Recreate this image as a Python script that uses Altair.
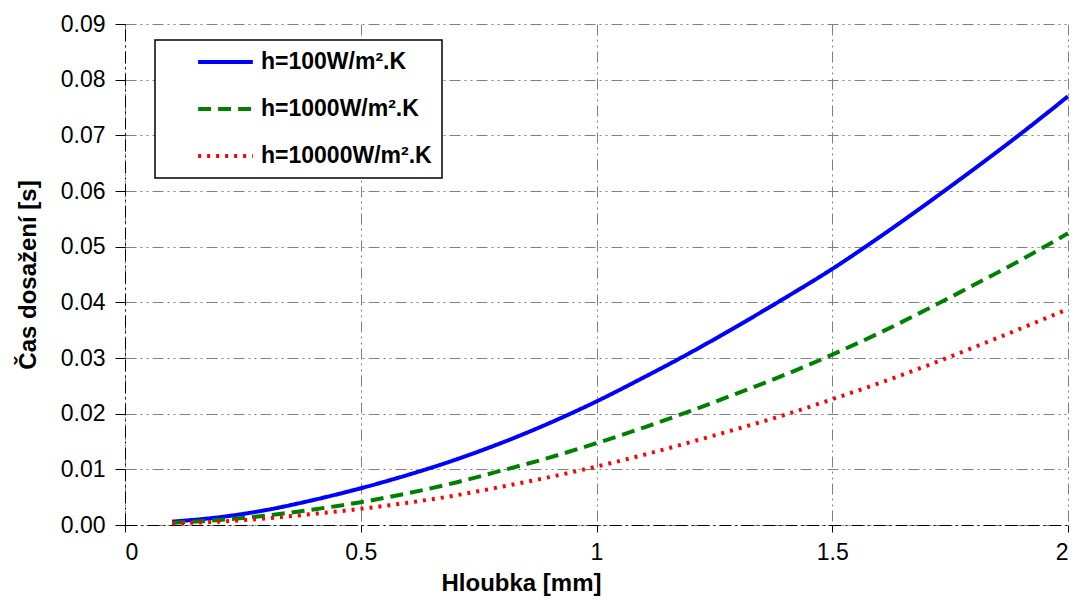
import altair as alt
import pandas as pd

depth = [0.1, 0.2, 0.3, 0.4, 0.5, 0.6, 0.7, 0.8, 0.9, 1.0,
         1.1, 1.2, 1.3, 1.4, 1.5, 1.6, 1.7, 1.8, 1.9, 2.0]
t_h100 = [0.0006, 0.0014, 0.0027, 0.0045, 0.0066, 0.0090, 0.0117, 0.0148, 0.0183, 0.0222,
          0.0265, 0.0310, 0.0358, 0.0408, 0.0460, 0.0517, 0.0577, 0.0639, 0.0703, 0.0770]
t_h1000 = [0.0004, 0.0009, 0.0017, 0.0028, 0.0041, 0.0057, 0.0076, 0.0098, 0.0121, 0.0147,
           0.0175, 0.0205, 0.0237, 0.0270, 0.0306, 0.0345, 0.0387, 0.0431, 0.0476, 0.0524]
t_h10000 = [0.0003, 0.0006, 0.0012, 0.0020, 0.0029, 0.0040, 0.0053, 0.0069, 0.0086, 0.0105,
            0.0126, 0.0149, 0.0173, 0.0198, 0.0226, 0.0255, 0.0286, 0.0319, 0.0353, 0.0388]

series_names = ["h=100W/m².K", "h=1000W/m².K", "h=10000W/m².K"]
series_colors = ["#0000FF", "#008000", "#FF0000"]
series_dashes = [[1, 0], [13, 7], [3, 6]]
x_ticks = [0, 0.5, 1, 1.5, 2]
y_ticks = [0.0, 0.01, 0.02, 0.03, 0.04, 0.05, 0.06, 0.07, 0.08, 0.09]

rows = []
for name, vals in zip(series_names, [t_h100, t_h1000, t_h10000]):
    for d, v in zip(depth, vals):
        rows.append({"depth": d, "time": v, "series": name})
df = pd.DataFrame(rows)

FONT = "Liberation Sans"
grid_dash = [11, 4, 2, 4, 2, 4]

chart = alt.Chart(df).mark_line(strokeWidth=4, interpolate="monotone").encode(
    x=alt.X("depth:Q",
            scale=alt.Scale(domain=[0, 2], nice=False),
            axis=alt.Axis(title="Hloubka [mm]", values=x_ticks, format="~g",
                          titlePadding=7, titleX=396, tickSize=7, labelPadding=9)),
    y=alt.Y("time:Q",
            scale=alt.Scale(domain=[0, 0.09], nice=False),
            axis=alt.Axis(title="Čas dosažení [s]", values=y_ticks, format=".2f",
                          titlePadding=20, tickSize=10, labelPadding=10)),
    color=alt.Color("series:N",
                    scale=alt.Scale(domain=series_names, range=series_colors),
                    legend=alt.Legend(title=None, orient="none", legendX=30, legendY=16,
                                      symbolType="stroke", symbolSize=3000,
                                      symbolStrokeWidth=4, symbolOffset=31,
                                      clipHeight=24,
                                      labelFont=FONT, labelFontSize=23,
                                      labelFontWeight="bold", labelColor="black",
                                      labelOffset=6, rowPadding=23, padding=10,
                                      labelExpr="datum.label + '\u00a0\u00a0\u00a0'",
                                      strokeColor="black", fillColor="white",
                                      labelLimit=400)),
    strokeDash=alt.StrokeDash("series:N",
                              scale=alt.Scale(domain=series_names, range=series_dashes),
                              legend=None),
).properties(
    width=943, height=501,
    autosize=alt.AutoSizeParams(type="none"),
    padding={"left": 125, "top": 24, "right": 9, "bottom": 75},
).configure_view(stroke=None).configure_axis(
    labelFont=FONT, labelFontSize=23, labelColor="black",
    titleFont=FONT, titleFontSize=24, titleFontWeight="bold", titleColor="black",
    grid=True, gridColor="#808080", gridDash=grid_dash, gridWidth=1,
    domainColor="black", domainDash=[12, 4, 2, 4], domainWidth=1,
    tickColor="black",
).configure_legend(strokeWidth=1.5)

chart.save("out.html", embed_options={"renderer": "svg", "actions": False})
